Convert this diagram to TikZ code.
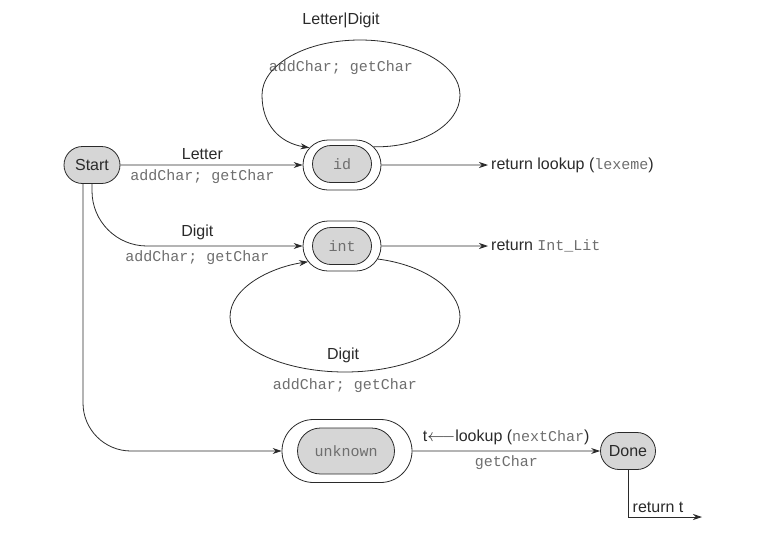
\documentclass[tikz,border=0pt]{standalone}
\usepackage{fontspec}
\setmainfont{Liberation Sans}
\setmonofont{Liberation Mono}
\usetikzlibrary{shapes.misc,arrows.meta}
\definecolor{ink}{HTML}{2A2A2A}
\definecolor{codegray}{HTML}{6E6E6E}
\definecolor{statefill}{HTML}{D6D6D6}
\newcommand\codetxt[1]{{\fontsize{15}{18}\ttfamily\color{codegray}#1}}

\begin{document}
\begin{tikzpicture}[x=1pt,y=-1pt,
  every node/.style={font=\fontsize{16}{19}\selectfont,text=ink},
  >={Stealth[length=9pt,width=6pt]},
  state/.style={rounded rectangle,draw=ink,fill=statefill,line width=.8pt,inner sep=0pt},
  ring/.style={rounded rectangle,draw=ink,line width=.8pt,inner sep=0pt},
  edge/.style={->,draw=ink,line width=.8pt},
  code/.style={font=\fontsize{15}{18}\selectfont\ttfamily,text=codegray}]
\useasboundingbox (0,0) rectangle (762,552);

\node[state,minimum width=56pt,minimum height=37pt] (start) at (92,165) {Start};
\node[ring,minimum width=78pt,minimum height=50pt] (idr) at (342,165) {};
\node[state,code,minimum width=59pt,minimum height=37pt] (id) at (342,164) {id};
\node[ring,minimum width=78pt,minimum height=50pt] (intr) at (342,246) {};
\node[state,code,minimum width=59pt,minimum height=37pt] (int) at (342,246) {int};
\node[ring,minimum width=130pt,minimum height=63pt] (unkr) at (347,451) {};
\node[state,code,minimum width=97pt,minimum height=46pt] (unk) at (346,451) {unknown};
\node[state,minimum width=55pt,minimum height=37pt] (done) at (628,451) {Done};

\node[anchor=west,inner sep=3pt] (retid) at (488,165) {return lookup (\codetxt{lexeme})};
\node[anchor=west,inner sep=3pt] (retint) at (488,246) {return \codetxt{Int\_Lit}};
\coordinate (out) at (702,517);

\node (lblld) at (341,20) {Letter|Digit};
\node[code] (actld) at (341,68) {addChar; getChar};
\node (lbld) at (343,355) {Digit};
\node[code] (actd) at (345,386) {addChar; getChar};

\draw[edge] (start) -- (idr) node[pos=.45,above=2pt] {Letter}
  node[pos=.45,below=1pt,code] {addChar; getChar};
\draw[edge,rounded corners=55pt] (start.south) |- (intr.west)
  node[pos=.75,above=2pt] {Digit} node[pos=.75,below=1pt,code] {addChar; getChar};
\draw[edge,rounded corners=48pt] ([xshift=-9pt]start.south) |- (unkr.west);

\draw[edge] (idr.30) .. controls (420,148) and (460,125) .. (460,95)
  .. controls (460,65) and (415,40) .. (360,40)
  .. controls (305,40) and (262,65) .. (262,95)
  .. controls (262,125) and (280,143) .. (idr.152);
\draw[edge] (intr.-20) .. controls (425,265) and (460,290) .. (460,317)
  .. controls (460,347) and (408,372) .. (345,372)
  .. controls (282,372) and (230,347) .. (230,317)
  .. controls (230,287) and (272,267) .. (intr.-155);

\draw[edge] (idr) -- (retid);
\draw[edge] (intr) -- (retint);
\draw[edge] (unkr) -- (done) node[midway,above=2pt] {t$\longleftarrow$lookup (\codetxt{nextChar})}
  node[midway,below=1pt,code] {getChar};
\draw[edge] (done.south) |- (out) node[pos=.5,above right=1pt] {return t};
\end{tikzpicture}
\end{document}
